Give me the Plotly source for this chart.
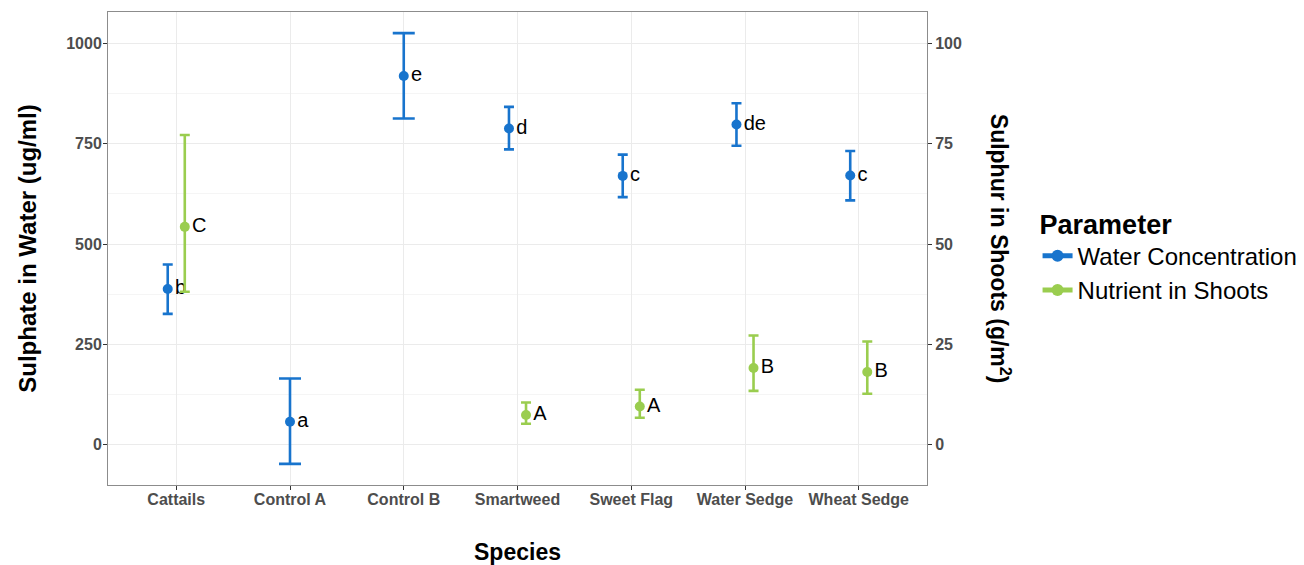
import plotly.graph_objects as go

species = ["Cattails", "Control A", "Control B", "Smartweed", "Sweet Flag", "Water Sedge", "Wheat Sedge"]

# Water concentration (left axis)
water_mean = [388, 57, 919, 788, 670, 798, 671]
water_lo = [326, -48, 813, 736, 617, 745, 609]
water_hi = [449, 165, 1026, 842, 723, 851, 732]
water_letters = ["b", "a", "e", "d", "c", "de", "c"]

# Nutrient in shoots (right axis)
shoot_species = ["Cattails", "Smartweed", "Sweet Flag", "Water Sedge", "Wheat Sedge"]
shoot_mean = [54.3, 7.4, 9.5, 19.1, 18.1]
shoot_lo = [38.1, 5.2, 6.7, 13.4, 12.7]
shoot_hi = [77.2, 10.5, 13.7, 27.2, 25.7]
shoot_letters = ["C", "A", "A", "B", "B"]

left_ticks = [0, 250, 500, 750, 1000]
right_ticks = [0, 25, 50, 75, 100]

BLUE = "#1874CD"
GREEN = "#9ACD4F"
DODGE = 0.075
FONT = "Liberation Sans, Arial, sans-serif"
TICKFONT = dict(size=16, color="#4D4D4D", family=FONT)

fig = go.Figure()

idx = {s: i for i, s in enumerate(species)}
paired = set(shoot_species)

# split water into dodged / single groups (different cap widths)
for dodged in (True, False):
    xs, ys, ep, em, tx = [], [], [], [], []
    for s, m, lo, hi, t in zip(species, water_mean, water_lo, water_hi, water_letters):
        if (s in paired) != dodged:
            continue
        xs.append(idx[s] - (DODGE if dodged else 0))
        ys.append(m)
        ep.append(hi - m)
        em.append(m - lo)
        tx.append(t)
    fig.add_trace(go.Scatter(
        x=xs, y=ys, mode="markers+text", text=tx, textposition="middle right",
        textfont=dict(size=20, color="black", family=FONT),
        marker=dict(color=BLUE, size=10),
        error_y=dict(type="data", array=ep, arrayminus=em, color=BLUE,
                     thickness=2.6, width=5 if dodged else 11),
        showlegend=False, cliponaxis=False, yaxis="y"))

sx = [idx[s] + DODGE for s in shoot_species]
fig.add_trace(go.Scatter(
    x=sx, y=shoot_mean, mode="markers+text", text=shoot_letters, textposition="middle right",
    textfont=dict(size=20, color="black", family=FONT),
    marker=dict(color=GREEN, size=10),
    error_y=dict(type="data", array=[h - m for h, m in zip(shoot_hi, shoot_mean)],
                 arrayminus=[m - l for m, l in zip(shoot_mean, shoot_lo)],
                 color=GREEN, thickness=2.6, width=5),
    showlegend=False, cliponaxis=False, yaxis="y2"))

# legend entries
fig.add_trace(go.Scatter(x=[None], y=[None], mode="lines+markers", name="Water Concentration",
                         line=dict(color=BLUE, width=2), marker=dict(color=BLUE, size=8)))
fig.add_trace(go.Scatter(x=[None], y=[None], mode="lines+markers", name="Nutrient in Shoots",
                         line=dict(color=GREEN, width=2), marker=dict(color=GREEN, size=8)))

axis_common = dict(zeroline=False, ticks="outside", ticklen=4, tickcolor="#333333",
                   tickfont=TICKFONT, automargin=False)

# page body adds an 8px margin, so the figure is 8px smaller and margins shifted
fig.update_layout(
    width=1296, height=557,
    margin=dict(l=100, r=377, t=4, b=80, autoexpand=False),
    paper_bgcolor="white", plot_bgcolor="white",
    font=dict(family=FONT),
    xaxis=dict(range=[-0.6, 6.6], tickvals=list(range(len(species))),
               ticktext=[f"<b>{s}</b>" for s in species],
               showgrid=True, gridcolor="#EBEBEB", gridwidth=1, ticklabelstandoff=-4,
               title=dict(text="<b>Species</b>", font=dict(size=23, color="black"), standoff=38),
               showline=True, linecolor="#8C8C8C", linewidth=1, mirror=True, **axis_common),
    yaxis=dict(range=[-100.6, 1078.6], tickvals=left_ticks,
               ticktext=[f"<b>{v}</b>" for v in left_ticks],
               showgrid=True, gridcolor="#EBEBEB", ticklabelstandoff=-2,
               minor=dict(dtick=125, tick0=0, showgrid=True, gridcolor="#F5F5F5"),
               title=dict(text="<b>Sulphate in Water (ug/ml)</b>", font=dict(size=24, color="black"), standoff=22),
               showline=True, linecolor="#8C8C8C", linewidth=1, mirror=True, **axis_common),
    yaxis2=dict(range=[-10.06, 107.86], tickvals=right_ticks,
                ticktext=[f"<b>{v}</b>" for v in right_ticks],
                overlaying="y", side="right", showgrid=False, **axis_common),
    legend=dict(x=1.135, xanchor="left", y=0.485, yanchor="middle",
                title=dict(text="<b>Parameter</b>", font=dict(size=27, color="black")),
                font=dict(size=24, color="black"), tracegroupgap=0, itemsizing="constant",
                itemwidth=30),
    annotations=[dict(text="<b>Sulphur in Shoots (g/m<sup>2</sup>)</b>", textangle=90,
                      xref="paper", yref="paper", x=1.09, y=0.5, xanchor="center", yanchor="middle",
                      showarrow=False, font=dict(size=23, color="black"))],
)

fig.write_html("out.html")
